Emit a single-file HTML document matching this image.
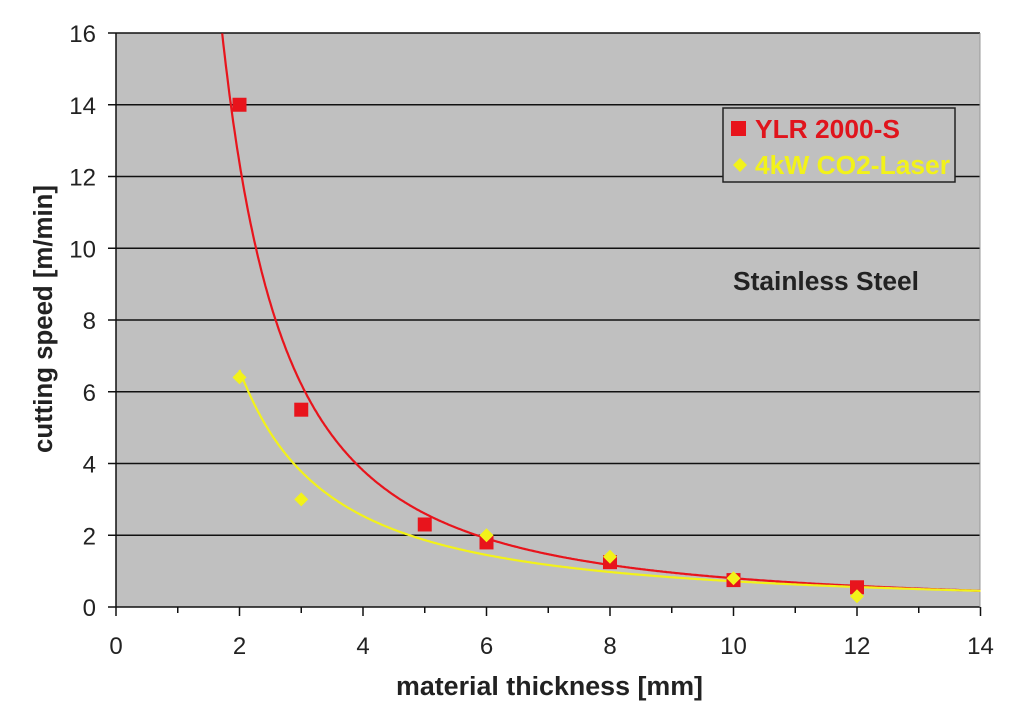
<!DOCTYPE html>
<html><head><meta charset="utf-8"><style>
body{margin:0;background:#fff;}
svg{display:block;font-family:"Liberation Sans",Arial,sans-serif;}
</style></head><body>
<svg id="s" width="1024" height="705" viewBox="0 0 1024 705">
<rect x="116" y="33" width="864" height="574" fill="#c0c0c0"/>
<g id="grid" stroke="#111" stroke-width="1.5"></g>
<line x1="116" y1="33" x2="116" y2="607" stroke="#111" stroke-width="1.5"/>
<line x1="108" y1="607" x2="980" y2="607" stroke="#111" stroke-width="1.5"/>
<line x1="980" y1="33" x2="980" y2="607" stroke="#999" stroke-width="1"/>
<g id="ticks" stroke="#111" stroke-width="1.5"></g>
<g id="labels" font-size="24" fill="#222"></g>
<path id="red" fill="none" stroke="#e8141c" stroke-width="2.2"/>
<path id="yel" fill="none" stroke="#f2f21a" stroke-width="2.2"/>
<g id="mk"></g>
<rect x="723" y="108" width="232" height="74" fill="#c0c0c0" stroke="#222" stroke-width="1.5"/>
<rect x="731" y="121" width="15" height="15" fill="#e8141c"/>
<text x="755" y="138" font-size="25.5" font-weight="bold" fill="#e0141c" textLength="145" lengthAdjust="spacingAndGlyphs">YLR 2000-S</text>
<polygon points="740,158 747,165 740,172 733,165" fill="#f2f21a"/>
<text x="755" y="174" font-size="25.5" font-weight="bold" fill="#f2f21a" textLength="195" lengthAdjust="spacingAndGlyphs">4kW CO2-Laser</text>
<text x="733" y="290" font-size="25.5" font-weight="bold" fill="#222" textLength="186" lengthAdjust="spacingAndGlyphs">Stainless Steel</text>
<text x="396" y="695" font-size="25.5" font-weight="bold" fill="#222" textLength="307" lengthAdjust="spacingAndGlyphs">material thickness [mm]</text>
<text transform="translate(52,453) rotate(-90)" font-size="25.5" font-weight="bold" fill="#222" textLength="268" lengthAdjust="spacingAndGlyphs">cutting speed [m/min]</text>
</svg>
<script>
var X=function(v){return 116+v*61.75},Y=function(v){return 607-v*35.875};
var ns="http://www.w3.org/2000/svg";
function el(p,t,a){var e=document.createElementNS(ns,t);for(var k in a)e.setAttribute(k,a[k]);document.getElementById(p).appendChild(e);return e;}
for(var i=2;i<=16;i+=2){el("grid","line",{x1:108,x2:980,y1:Y(i),y2:Y(i)});}
for(var i=0;i<=16;i+=2){var t=el("labels","text",{x:96,y:Y(i)+9,"text-anchor":"end"});t.textContent=i;}
for(var i=0;i<=14;i++){el("ticks","line",{x1:X(i),x2:X(i),y1:607,y2:i%2?613:616});}
for(var i=0;i<=14;i+=2){var t=el("labels","text",{x:X(i),y:654,"text-anchor":"middle"});t.textContent=i;}
function curve(a,b,x0){var d="";for(var x=x0;x<=14.001;x+=0.02){d+=(d?"L":"M")+X(x).toFixed(1)+","+Y(a/Math.pow(x,b)).toFixed(1);}return d;}
document.getElementById("red").setAttribute("d",curve(40.2,1.7,1.72));
document.getElementById("yel").setAttribute("d",curve(17.2,1.38,2));
[[2,14],[3,5.5],[5,2.3],[6,1.8],[8,1.25],[10,0.75],[12,0.55]].forEach(function(p){el("mk","rect",{x:X(p[0])-7,y:Y(p[1])-7,width:14,height:14,fill:"#e8141c"});});
[[2,6.4],[3,3],[6,2],[8,1.4],[10,0.8],[12,0.3]].forEach(function(p){var x=X(p[0]),y=Y(p[1]);el("mk","polygon",{points:(x)+","+(y-7)+" "+(x+7)+","+y+" "+x+","+(y+7)+" "+(x-7)+","+y,fill:"#f2f21a"});});
</script>
</body></html>
